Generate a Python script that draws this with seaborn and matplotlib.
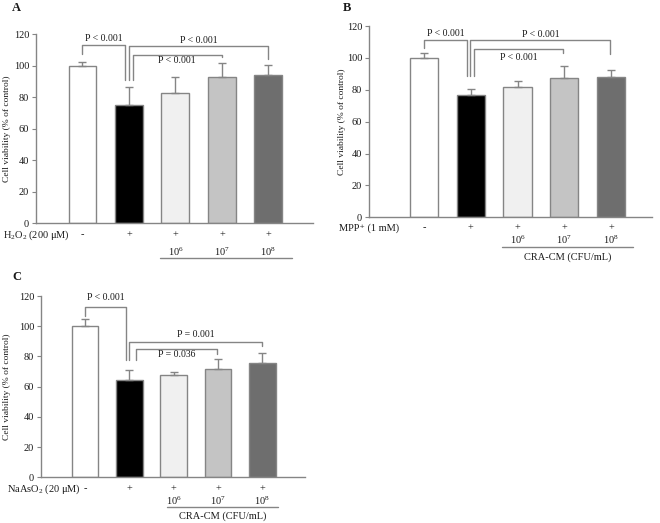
import numpy as np
import pandas as pd
import matplotlib
matplotlib.use("Agg")
import matplotlib.pyplot as plt
import matplotlib.transforms as mtransforms
import seaborn as sns

# ---- data ----
groups = ["Control", "Toxin", "CM 1e6", "CM 1e7", "CM 1e8"]
sign_labels = ["-", "+", "+", "+", "+"]
dose_labels = ["", "", r"$10^6$", r"$10^7$", r"$10^8$"]
bar_colors = ["#ffffff", "#000000", "#f0f0f0", "#c4c4c4", "#6e6e6e"]

viability_a = [100, 75.0, 82.5, 92.6, 94.3]
sd_a = [2.5, 11.5, 10.7, 8.9, 6.1]
viability_b = [100, 77.0, 81.9, 87.5, 88.1]
sd_b = [2.8, 3.2, 3.3, 7.1, 4.0]
viability_c = [100, 64.7, 67.7, 71.5, 75.7]
sd_c = [4.7, 6.2, 2.3, 6.9, 6.3]

# brackets: (x start, x end, top, left leg bottom, right leg bottom, label, label y)
brackets_a = [(0, 0.91, 113.5, 107.6, 90.7, "P < 0.001", 117.5),
              (1.0, 4.0, 112.8, 90.7, 104.4, "P < 0.001", 116.0),
              (1.08, 3.0, 107.0, 90.7, 105.4, "P < 0.001", 103.4)]
brackets_b = [(0, 0.92, 111.5, 106.0, 88.8, "P < 0.001", 115.0),
              (0.99, 3.99, 111.1, 88.8, 102.5, "P < 0.001", 114.7),
              (1.06, 2.98, 105.4, 88.8, 103.2, "P < 0.001", 100.4)]
brackets_c = [(0, 0.92, 112.7, 107.0, 77.5, "P < 0.001", 118.7),
              (1.0, 3.98, 89.7, 77.5, 86.9, "P = 0.001", 94.2),
              (1.14, 2.98, 84.7, 77.5, 81.5, "P = 0.036", 81.5)]

GRAY = "#858585"
TXT = "#1a1a1a"


def draw_panel(fig, rect, xlim, letter, letter_xy, values, sds, brackets,
               treat_label, treat_x, rows, underline, ylab_x, show_cra=True):
    ax = fig.add_axes(rect)
    df = pd.DataFrame({"group": groups, "viability": values})
    sns.barplot(data=df, x="group", y="viability", hue="group", order=groups,
                hue_order=groups, palette=bar_colors, legend=False, width=0.6,
                edgecolor=GRAY, linewidth=1.0, ax=ax, errorbar=None)
    # one-sided (upper) SD bars
    ax.errorbar(np.arange(len(groups)), values,
                yerr=[np.zeros(len(sds)), sds], fmt="none",
                ecolor=GRAY, elinewidth=1.0, capsize=3, capthick=1.0)

    ax.set_xlim(*xlim)
    ax.set_ylim(0, 120)
    ax.set_yticks(range(0, 121, 20))
    ax.set_xticks([])
    ax.set_xlabel("")
    ax.set_ylabel("Cell viability (% of control)", fontsize=6.8, color=TXT)
    ax.yaxis.set_label_coords(ylab_x, 0.5)
    ax.tick_params(axis="y", labelsize=7.5, length=3, width=0.8,
                   color=GRAY, labelcolor=TXT, pad=2)
    for s in ["top", "right"]:
        ax.spines[s].set_visible(False)
    for s in ["left", "bottom"]:
        ax.spines[s].set_color(GRAY)
        ax.spines[s].set_linewidth(1.0)

    # significance brackets
    for x0, x1, top, lb, rb, lab, ly in brackets:
        ax.plot([x0, x0, x1, x1], [lb, top, top, rb], color=GRAY, lw=1.0,
                clip_on=False)
        ax.text((x0 + x1) / 2, ly, lab, ha="center", va="center",
                fontsize=7, color=TXT)

    # treatment rows under the axis
    r1, r2, rl, rc = rows
    xt = ax.get_xaxis_transform()

    def below(px):
        return mtransforms.offset_copy(xt, fig=fig, y=-px, units="dots")

    for i in range(len(groups)):
        ax.text(i, 0, sign_labels[i], transform=below(r1), ha="center",
                va="center", fontsize=7.5, color=TXT)
        if dose_labels[i]:
            ax.text(i, 0, dose_labels[i], transform=below(r2), ha="center",
                    va="center", fontsize=7.5, color=TXT)
    fig.text(treat_x, 0, treat_label,
             transform=mtransforms.offset_copy(
                 mtransforms.blended_transform_factory(fig.transFigure, ax.transAxes),
                 fig=fig, y=-r1, units="dots"),
             ha="left", va="center", fontsize=7.5, color=TXT)
    ax.plot(list(underline), [0, 0], transform=below(rl), color=GRAY, lw=1.0,
            clip_on=False)
    if show_cra:
        ax.text(sum(underline) / 2, 0, "CRA-CM (CFU/mL)", transform=below(rc),
                ha="center", va="center", fontsize=7.5, color=TXT)

    fig.text(letter_xy[0] / 660, 1 - letter_xy[1] / 523, letter, fontsize=9,
             fontweight="bold", ha="left", va="center", color=TXT)
    return ax


def main():
    sns.set_style("ticks")
    plt.rcParams["font.family"] = ["Liberation Serif", "DejaVu Serif"]
    plt.rcParams["mathtext.default"] = "regular"

    fig = plt.figure(figsize=(6.6, 5.23), dpi=100)
    fig.patch.set_facecolor("white")

    # panel A
    draw_panel(fig, [36 / 660, (523 - 223.3) / 523, 277 / 660, 189 / 523],
               (-1.0, 4.96), "A", (12, 8), viability_a, sd_a, brackets_a,
               r"H$_2$O$_2$ (200 μM)", 3 / 660, (11.7, 28.4, 34.4, 44),
               (1.67, 4.5), -0.09, show_cra=False)
    # panel B
    draw_panel(fig, [369 / 660, (523 - 217.3) / 523, 283 / 660, 191.3 / 523],
               (-1.18, 4.88), "B", (343, 8), viability_b, sd_b, brackets_b,
               "MPP\u207a (1 mM)", 339 / 660, (10.4, 22, 30, 39.4),
               (1.67, 4.48), -0.081)
    # panel C
    draw_panel(fig, [41 / 660, (523 - 477.3) / 523, 264 / 660, 181.3 / 523],
               (-0.99, 4.96), "C", (12, 277), viability_c, sd_c, brackets_c,
               r"NaAsO$_2$ (20 μM)", 7 / 660, (11.7, 23.4, 30, 38.4),
               (1.84, 4.35), -0.114)

    fig.savefig("out.png", dpi=100)
    plt.close(fig)


if __name__ == "__main__":
    main()
